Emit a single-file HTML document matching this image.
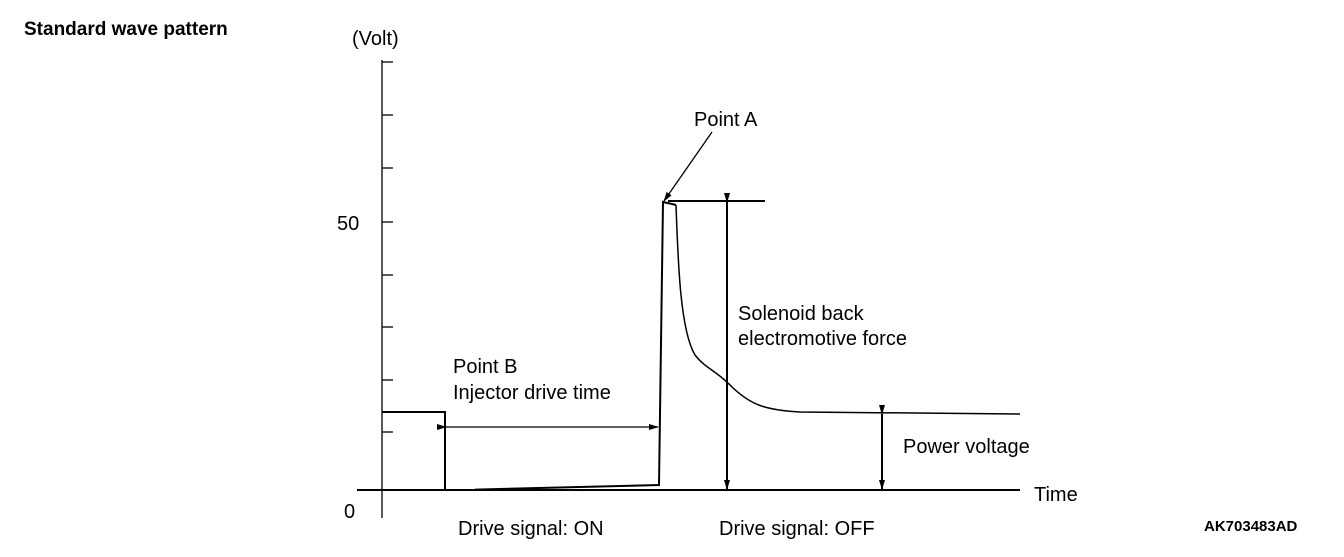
<!DOCTYPE html>
<html><head><style>
body{margin:0;background:#fff;}
svg text{font-family:"Liberation Sans",sans-serif;fill:#000;}
</style></head><body>
<svg width="1344" height="552" viewBox="0 0 1344 552" xmlns="http://www.w3.org/2000/svg">
<defs>
<marker id="a" markerWidth="10" markerHeight="6" refX="9" refY="3" orient="auto" markerUnits="userSpaceOnUse"><path d="M0,0 L10,3 L0,6 Z" fill="#000"/></marker>
</defs>
<text x="24" y="35" font-size="19" font-weight="bold">Standard wave pattern</text>
<text x="352" y="45" font-size="20">(Volt)</text>
<text x="337" y="230" font-size="20">50</text>
<text x="344" y="518" font-size="20">0</text>
<g stroke="#000" fill="none" stroke-width="1.3">
<line x1="382" y1="60" x2="382" y2="518"/>
<line x1="382" y1="62" x2="393" y2="62"/>
<line x1="382" y1="115" x2="393" y2="115"/>
<line x1="382" y1="168" x2="393" y2="168"/>
<line x1="382" y1="222" x2="393" y2="222"/>
<line x1="382" y1="275" x2="393" y2="275"/>
<line x1="382" y1="327" x2="393" y2="327"/>
<line x1="382" y1="380" x2="393" y2="380"/>
<line x1="382" y1="432" x2="393" y2="432"/>
<line x1="357" y1="490" x2="1020" y2="490" stroke-width="2"/>
<polyline points="382,412 445,412 445,490" stroke-width="2"/>
<polyline points="475,489.6 659,485 663,202 672,204 676,205" stroke-width="2"/>
<path d="M676,205 C678,260 680,330 695,355 C705,368 715,370 730,385 C750,405 765,410 800,412 L1020,414" stroke-width="1.5"/>
<line x1="668" y1="201" x2="765" y2="201" stroke-width="2"/>
<line x1="446" y1="427" x2="658" y2="427" marker-start="url(#a)" marker-end="url(#a)"/>
<line x1="727" y1="202" x2="727" y2="489" stroke-width="2" marker-start="url(#a)" marker-end="url(#a)"/>
<line x1="882" y1="414" x2="882" y2="489" stroke-width="2" marker-start="url(#a)" marker-end="url(#a)"/>
<line x1="712" y1="132" x2="664" y2="201" marker-end="url(#a)"/>
</g>
<text x="694" y="126" font-size="20">Point A</text>
<text x="738" y="320" font-size="20">Solenoid back</text>
<text x="738" y="345" font-size="20">electromotive force</text>
<text x="453" y="373" font-size="20">Point B</text>
<text x="453" y="399" font-size="20">Injector drive time</text>
<text x="903" y="453" font-size="20">Power voltage</text>
<text x="1034" y="501" font-size="20">Time</text>
<text x="458" y="535" font-size="20">Drive signal: ON</text>
<text x="719" y="535" font-size="20">Drive signal: OFF</text>
<text x="1204" y="531" font-size="15" font-weight="bold">AK703483AD</text>
</svg>
</body></html>
